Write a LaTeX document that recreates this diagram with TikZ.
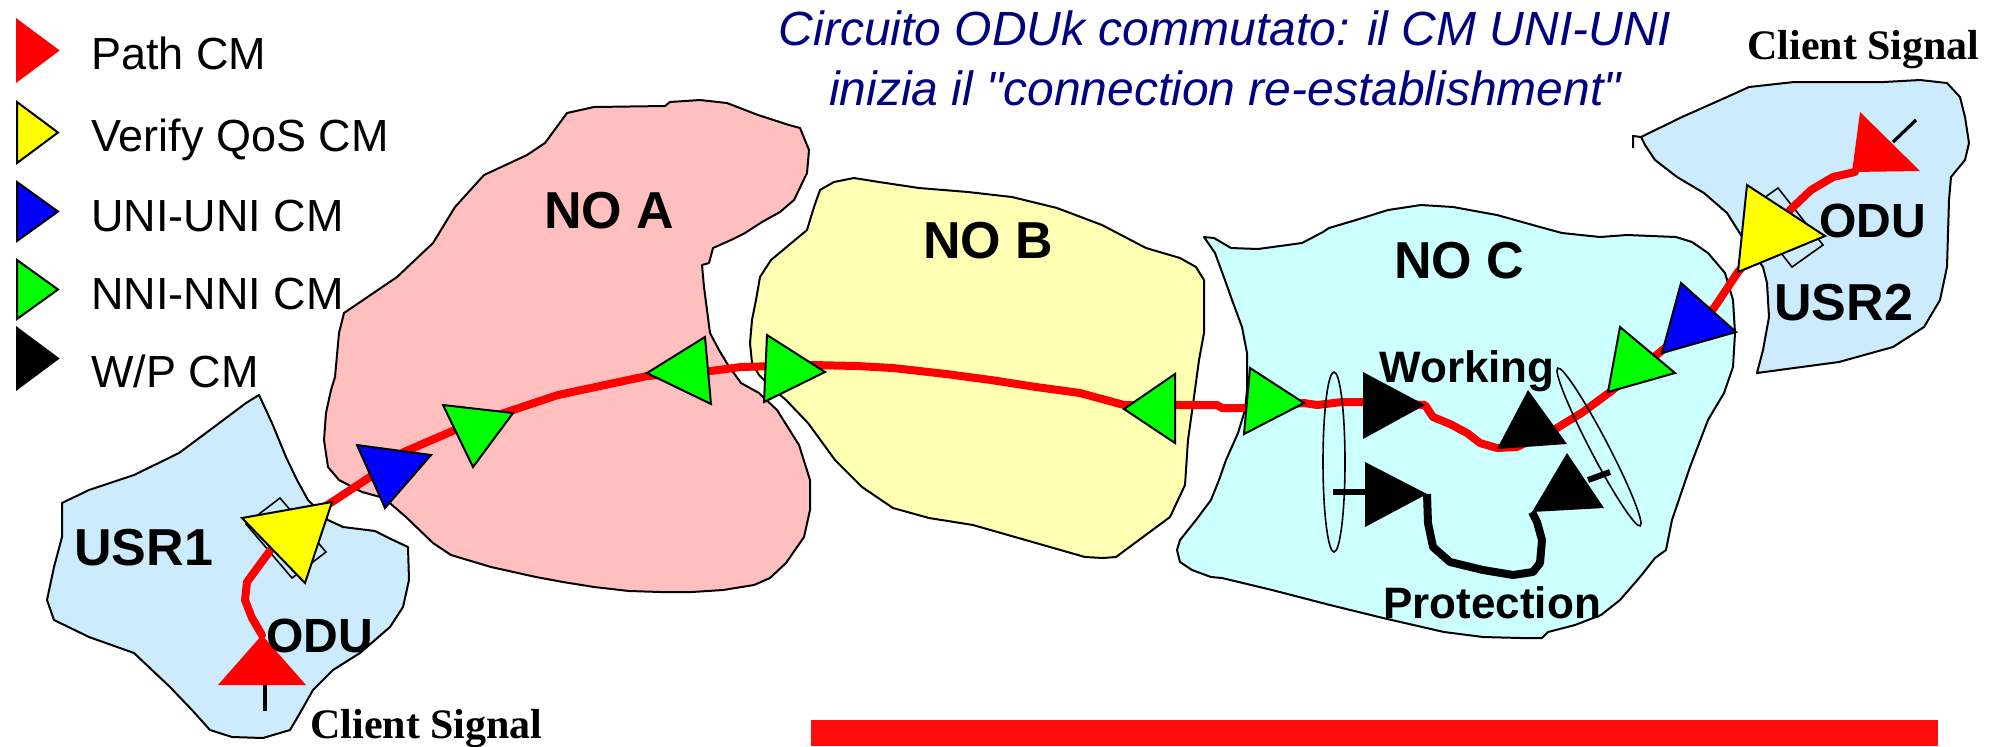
\documentclass[tikz,border=0pt]{standalone}
\usepackage{fontspec}
\setmainfont{Liberation Sans}
\newfontfamily\clientfont{Liberation Serif}
\usepackage{tikz}
\definecolor{usrblue}{HTML}{CCEBFC}
\definecolor{noapink}{HTML}{FFBFBF}
\definecolor{nobyellow}{HTML}{FFFFB3}
\definecolor{noccyan}{HTML}{CCFFFF}
\definecolor{cmgreen}{HTML}{00FF00}
\definecolor{cmyellow}{HTML}{FFFF00}
\definecolor{cmblue}{HTML}{0000FF}
\definecolor{pathred}{HTML}{FF0000}
\definecolor{titleblue}{HTML}{000080}
\definecolor{barred}{HTML}{FF0D0D}
\tikzset{
  legtext/.style={anchor=base west,inner sep=0pt,font=\fontsize{22.5}{27}\selectfont},
  nolabel/.style={anchor=base west,inner sep=0pt,font=\fontsize{26}{30}\selectfont\bfseries},
  odulabel/.style={anchor=base west,inner sep=0pt,font=\fontsize{24}{28}\selectfont\bfseries},
  wplabel/.style={anchor=base west,inner sep=0pt,font=\fontsize{22}{26}\selectfont\bfseries},
  titletext/.style={anchor=base,inner sep=0pt,text=titleblue,
                    font=\fontsize{24}{28}\selectfont\itshape},
  clienttext/.style={anchor=base west,inner sep=0pt,
                     font=\clientfont\bfseries\fontsize{21}{25}\selectfont},
  cloud/.style={draw=black,line width=1pt,line join=round},
  cmtri/.style={draw=black,line width=1pt,line join=miter},
  pathline/.style={draw=pathred,line width=4pt,line join=round,line cap=round},
  wpline/.style={draw=black,line width=4pt,line join=round},
  thinell/.style={draw=black,line width=0.8pt}
}

\begin{document}
\begin{tikzpicture}[x=0.5pt,y=-0.5pt]
  \useasboundingbox (0,0) rectangle (2004,746);

  % legend
  \foreach \col/\edge/\txt/\yt/\yb/\yl [count=\i] in {
      pathred/pathred/Path CM/20/81/69,
      cmyellow/black/Verify QoS CM/102/163/151,
      cmblue/black/UNI-UNI CM/182/241/231,
      cmgreen/black/NNI-NNI CM/260/319/309,
      black/black/W\slash P CM/328/389/387} {
    \filldraw[cmtri,draw=\edge,fill=\col] (17,\yt) -- (58,{(\yt+\yb)/2}) -- (17,\yb) -- cycle;
    \node[legtext] (leg\i) at (91,\yl) {\txt};
  }

  % title
  \node[titletext] (title1) at (1225,45) {Circuito ODUk commutato: il CM UNI-UNI};
  \node[titletext] (title2) at (1225,105)
    {inizia il \textquotedbl connection re-establishment\textquotedbl};

  % network clouds
  \draw[cloud,fill=usrblue] (259,395) -- (272,423) -- (286,457) -- (297,480) -- (308,500)
    -- (328,520) -- (343,527) -- (375,531) -- (393,540) -- (408,547) -- (409,580) -- (403,607)
    -- (390,627) -- (360,653) -- (333,670) -- (313,690) -- (300,713) -- (290,730) -- (263,738)
    -- (232,737) -- (210,730) -- (192,710) -- (170,687) -- (134,653) -- (89,637) -- (54,620)
    -- (47,600) -- (54,567) -- (62,537) -- (62,503) -- (89,490) -- (134,475) -- (179,453)
    -- (210,430) -- (246,403) -- cycle;
  \draw[cloud,fill=noapink] (344,313) -- (397,277) -- (433,243) -- (455,207) -- (484,175)
    -- (527,155) -- (545,143) -- (567,113) -- (594,107) -- (665,106) -- (670,102) -- (700,100)
    -- (727,103) -- (758,115) -- (789,125) -- (800,128) -- (809,150) -- (807,173) -- (794,200)
    -- (780,212) -- (762,222) -- (745,233) -- (731,240) -- (713,248) -- (709,263) -- (702,265)
    -- (704,287) -- (710,333) -- (719,350) -- (728,365) -- (741,383) -- (759,393) -- (777,410)
    -- (799,445) -- (810,480) -- (810,510) -- (804,537) -- (786,563) -- (770,578) -- (754,585)
    -- (723,590) -- (692,592) -- (661,592) -- (629,591) -- (594,587) -- (563,582) -- (536,577)
    -- (491,567) -- (451,555) -- (433,543) -- (406,517) -- (384,498) -- (362,492) -- (339,480)
    -- (328,467) -- (324,440) -- (326,413) -- (331,390) -- (335,377) -- (339,333) -- cycle;
  \draw[cloud,fill=nobyellow] (834,182) -- (854,178) -- (879,182) -- (919,188) -- (968,192)
    -- (1012,197) -- (1057,208) -- (1102,225) -- (1146,248) -- (1180,258) -- (1196,267)
    -- (1204,280) -- (1204,333) -- (1199,360) -- (1194,397) -- (1188,440) -- (1185,485)
    -- (1170,517) -- (1143,537) -- (1116,557) -- (1103,558) -- (1085,557) -- (1036,543)
    -- (973,525) -- (929,518) -- (893,508) -- (862,487) -- (835,460) -- (808,423) -- (786,400)
    -- (772,388) -- (759,375) -- (752,363) -- (750,343) -- (752,320) -- (756,300) -- (760,277)
    -- (771,260) -- (789,245) -- (807,230) -- (814,207) -- (820,190) -- cycle;
  \draw[cloud,fill=noccyan] (1204,237) -- (1214,238) -- (1231,248) -- (1258,249) -- (1302,243)
    -- (1323,232) -- (1329,228) -- (1356,220) -- (1388,210) -- (1421,205) -- (1453,207)
    -- (1497,215) -- (1540,227) -- (1562,233) -- (1600,237) -- (1627,235) -- (1676,237)
    -- (1692,242) -- (1708,253) -- (1725,273) -- (1733,300) -- (1735,333) -- (1733,367)
    -- (1724,393) -- (1708,420) -- (1690,467) -- (1672,520) -- (1666,550) -- (1655,558)
    -- (1640,577) -- (1620,600) -- (1601,615) -- (1575,625) -- (1548,632) -- (1542,638)
    -- (1521,638) -- (1483,637) -- (1444,632) -- (1383,618) -- (1330,605) -- (1272,590)
    -- (1222,578) -- (1211,577) -- (1192,570) -- (1180,562) -- (1177,550) -- (1180,540)
    -- (1196,520) -- (1211,500) -- (1219,480) -- (1226,460) -- (1238,433) -- (1245,410)
    -- (1247,390) -- (1247,353) -- (1242,327) -- (1232,300) -- (1226,283) -- (1215,253)
    -- cycle;
  \draw[cloud,fill=usrblue] (1641,137) -- (1682,117) -- (1727,97) -- (1749,87) -- (1794,82)
    -- (1884,82) -- (1920,80) -- (1947,83) -- (1960,97) -- (1965,117) -- (1969,143)
    -- (1965,160) -- (1951,177) -- (1949,200) -- (1947,267) -- (1940,300) -- (1924,327)
    -- (1893,347) -- (1839,362) -- (1794,368) -- (1757,373) -- (1763,350) -- (1769,317)
    -- (1767,283) -- (1763,267) -- (1746,243) -- (1727,213) -- (1704,193) -- (1677,177)
    -- (1655,160) -- (1645,145) -- cycle;
  \draw[line width=1pt] (1641,137) -- (1633,136) -- (1633,148);

  % ODU boxes behind the QoS triangles
  \draw[line width=0.8pt] (280,498) -- (326,552) -- (292,578) -- (246,524) -- cycle;
  \draw[line width=0.8pt] (1778,188) -- (1823,245) -- (1792,267) -- (1747,210) -- cycle;

  % end points of the ODUk path
  \coordinate (srcodu) at (262,635);
  \coordinate (dstodu) at (1855,172);
  \coordinate (wsel) at (1425,405);
  \coordinate (psel) at (1427,494);
  \coordinate (pbrg) at (1532,512);

  % red ODUk path
  \draw[pathline] (srcodu) -- (252,618) -- (245,600) -- (247,582) -- (258,567) -- (272,548)
    -- (290,528) -- (332,502) -- (370,477) -- (404,452) -- (455,430) -- (504,413) -- (558,395)
    -- (647,376) -- (711,371) -- (741,367) -- (812,365) -- (857,366) -- (893,368) -- (946,374)
    -- (991,380) -- (1036,387) -- (1080,393) -- (1124,405) -- (1175,405) -- (1217,405)
    -- (1222,408) -- (1250,408) -- (1304,403) -- (1317,405) -- (1342,402) -- (1363,402)
    -- (wsel) -- (1433,417) -- (1450,424) -- (1467,433) -- (1480,443) -- (1497,448)
    -- (1517,447) -- (1557,428) -- (1583,412) -- (1610,392) -- (1659,353) -- (1714,308)
    -- (1738,272) -- (1790,210) -- (1811,190) -- (1833,177) -- (dstodu);

  % protection route
  \draw[wpline] (psel) -- (1428,523) -- (1433,547) -- (1450,562) -- (1483,570) -- (1513,575)
    -- (1533,572) -- (1540,563) -- (1542,540) -- (1537,522) -- (pbrg);

  % bridge and selector
  \draw[thinell] (1334,462) ellipse [x radius=11, y radius=90];
  \draw[thinell,rotate around={-62.4:(1599,447)}] (1599,447) ellipse [x radius=89, y radius=9];
  \draw[line width=3pt] (1333,492) -- (1365,492);
  \draw[line width=3pt] (1588,480) -- (1610,472);

  % client signal stubs
  \draw[line width=1.6pt] (265,685) -- (265,711);
  \draw[line width=1.6pt] (1893,142) -- (1916,120);

  % connection monitors along the path
  \fill[pathred] (srcodu) -- (306,685) -- (218,685) -- cycle;
  \filldraw[cmtri,fill=cmyellow] (242,518) -- (332,502) -- (305,583) -- cycle;
  \filldraw[cmtri,fill=cmblue] (357,445) -- (431,455) -- (385,508) -- cycle;
  \filldraw[cmtri,fill=cmgreen] (443,405) -- (513,413) -- (473,467) -- cycle;
  \filldraw[cmtri,fill=cmgreen] (647,373) -- (705,337) -- (711,404) -- cycle;
  \filldraw[cmtri,fill=cmgreen] (767,335) -- (825,372) -- (764,402) -- cycle;
  \filldraw[cmtri,fill=cmgreen] (1124,409) -- (1175,374) -- (1175,443) -- cycle;
  \filldraw[cmtri,fill=cmgreen] (1250,368) -- (1304,403) -- (1244,434) -- cycle;
  \fill[black] (1363,372) -- (wsel) -- (1363,439) -- cycle;
  \fill[black] (1365,462) -- (psel) -- (1365,527) -- cycle;
  \fill[black] (1497,449) -- (1528,390) -- (1567,444) -- cycle;
  \fill[black] (pbrg) -- (1567,453) -- (1604,508) -- cycle;
  \filldraw[cmtri,fill=cmgreen] (1608,392) -- (1620,327) -- (1675,373) -- cycle;
  \filldraw[cmtri,fill=cmblue] (1662,353) -- (1681,283) -- (1736,332) -- cycle;
  \filldraw[cmtri,fill=cmyellow] (1738,272) -- (1747,185) -- (1825,236) -- cycle;
  \fill[pathred] (1860,112) -- (1920,171) -- (1852,172) -- cycle;

  % labels
  \node[nolabel] (noa) at (544,228) {NO A};
  \node[nolabel] (nob) at (923,258) {NO B};
  \node[nolabel] (noc) at (1394,278) {NO C};
  \node[nolabel] (usr1) at (74,565) {USR1};
  \node[nolabel] (usr2) at (1774,320) {USR2};
  \node[odulabel] (odu1) at (266,652) {ODU};
  \node[odulabel] (odu2) at (1819,237) {ODU};
  \node[wplabel] (work) at (1379,382) {Working};
  \node[wplabel] (prot) at (1383,618) {Protection};
  \node[clienttext] (client1) at (310,738) {Client Signal};
  \node[clienttext] (client2) at (1747,59) {Client Signal};

  % message bar, cut at the bottom
  \fill[barred] (811,720) rectangle (1938,746);
\end{tikzpicture}
\end{document}
